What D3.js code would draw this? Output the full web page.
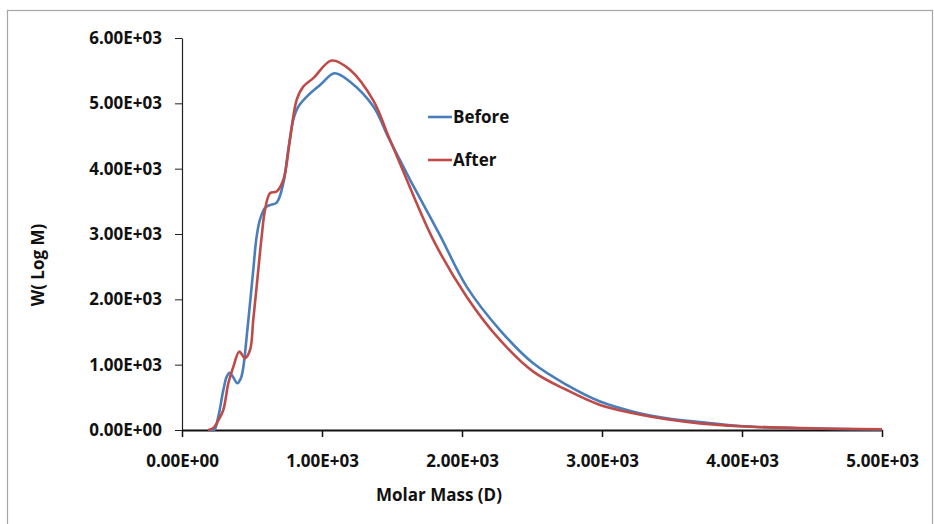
<!DOCTYPE html>
<html>
<head>
<meta charset="utf-8">
<script src="https://cdn.jsdelivr.net/npm/d3@7"></script>
<style>
	body { margin: 0; background: #fff; }
	text { font-family: "Open Sans", sans-serif; font-weight: bold; fill: #111; }
</style>
</head>
<body>
<div id="chart"></div>
<script>
// molar mass (D) and W(log M)
const beforeMass = [200, 230, 259, 295, 320, 340, 365, 395, 420, 440, 462, 486, 509, 533, 557, 593, 625, 676, 724, 759, 795, 831, 890, 986, 1090, 1200, 1367, 1474, 1557, 1629, 1843, 2033, 2271, 2509, 2748, 2986, 3224, 3462, 3700, 3986, 4414, 5000];
const beforeW = [0, 0, 200, 610, 820, 875, 810, 715, 790, 990, 1430, 1940, 2450, 2960, 3220, 3400, 3440, 3480, 3780, 4290, 4750, 4950, 5100, 5280, 5460, 5330, 4950, 4480, 4130, 3830, 2980, 2195, 1530, 1020, 690, 435, 280, 180, 120, 61, 26, 8];

const afterMass = [186, 224, 260, 295, 331, 367, 409, 450, 486, 509, 545, 569, 593, 629, 676, 724, 771, 819, 867, 938, 1069, 1200, 1367, 1474, 1557, 1795, 2033, 2271, 2509, 2748, 2986, 3224, 3462, 3700, 3986, 4414, 5000];
const afterW = [0, 30, 150, 306, 715, 970, 1199, 1100, 1225, 1684, 2450, 2960, 3369, 3625, 3650, 3830, 4440, 5054, 5257, 5386, 5655, 5513, 5040, 4500, 4080, 2910, 2041, 1378, 893, 612, 383, 255, 165, 102, 58, 28, 12];

const xTicks = [0, 1000, 2000, 3000, 4000, 5000];
const yTicks = [0, 1000, 2000, 3000, 4000, 5000, 6000];

const series = [
	{ name: "Before", color: "#4a7ebb", mass: beforeMass, w: beforeW },
	{ name: "After", color: "#be4b48", mass: afterMass, w: afterW }
];

// formato tipo Excel: 6.00E+03
function sci(v) {
	if (v === 0) return "0.00E+00";
	const e = Math.floor(Math.log10(v));
	const m = v / Math.pow(10, e);
	return m.toFixed(2) + "E+" + String(e).padStart(2, "0");
}

const W = 934, H = 524;
const margin = { top: 38, right: 52, bottom: 94, left: 182 },
	width = W - margin.left - margin.right,
	height = H - margin.top - margin.bottom;

const svg = d3.select("#chart").append("svg")
	.attr("width", W)
	.attr("height", H);

// cornice grigia esterna
svg.append("rect")
	.attr("x", 7.5).attr("y", 10.5)
	.attr("width", 925).attr("height", 530)
	.attr("fill", "none")
	.attr("stroke", "#a6a6a6")
	.attr("stroke-width", 1.2);

const g = svg.append("g")
	.attr("transform", "translate(" + margin.left + "," + margin.top + ")");

const x = d3.scaleLinear().domain([0, 5000]).range([0, width]);
const y = d3.scaleLinear().domain([0, 6000]).range([height, 0]);

// y axis
const yAxis = g.append("g")
	.call(d3.axisLeft(y).tickValues(yTicks).tickFormat(sci).tickSize(7).tickSizeOuter(0).tickPadding(13));
yAxis.select(".domain").attr("stroke", "#222").attr("stroke-width", 1.2);
yAxis.selectAll(".tick line").attr("stroke", "#222");
yAxis.selectAll("text").style("font-size", "17px").attr("fill", "#111");

// x axis
const xAxis = g.append("g")
	.attr("transform", "translate(0," + height + ")")
	.call(d3.axisBottom(x).tickValues(xTicks).tickFormat(sci).tickSize(7).tickSizeOuter(0).tickPadding(18));
xAxis.select(".domain").attr("stroke", "#111").attr("stroke-width", 2);
xAxis.selectAll(".tick line").attr("stroke", "#111").attr("stroke-width", 1.5);
xAxis.selectAll("text").style("font-size", "17px").attr("fill", "#111");

// curves (spline centripeta, come la linea smussata di Excel)
const line = d3.line()
	.x(d => x(d[0]))
	.y(d => y(d[1]))
	.curve(d3.curveCatmullRom.alpha(0.5));

series.forEach(s => {
	const pts = s.mass.map((m, i) => [m, s.w[i]]);
	g.append("path")
		.datum(pts)
		.attr("fill", "none")
		.attr("stroke", s.color)
		.attr("stroke-width", 2.6)
		.attr("d", line);
});

// axis titles
svg.append("text")
	.attr("x", 439).attr("y", 501)
	.attr("text-anchor", "middle")
	.style("font-size", "17px")
	.text("Molar Mass (D)");

svg.append("text")
	.attr("transform", "translate(44,265) rotate(-90)")
	.attr("text-anchor", "middle")
	.style("font-size", "17px")
	.text("W( Log M)");

// legend
const legend = svg.append("g").attr("transform", "translate(428,117)");
series.forEach((s, i) => {
	const row = legend.append("g").attr("transform", "translate(0," + (i * 43) + ")");
	row.append("line")
		.attr("x1", 0).attr("x2", 24)
		.attr("stroke", s.color)
		.attr("stroke-width", 2.6);
	row.append("text")
		.attr("x", 25).attr("y", 6)
		.style("font-size", "17px")
		.text(s.name);
});
</script>
</body>
</html>
